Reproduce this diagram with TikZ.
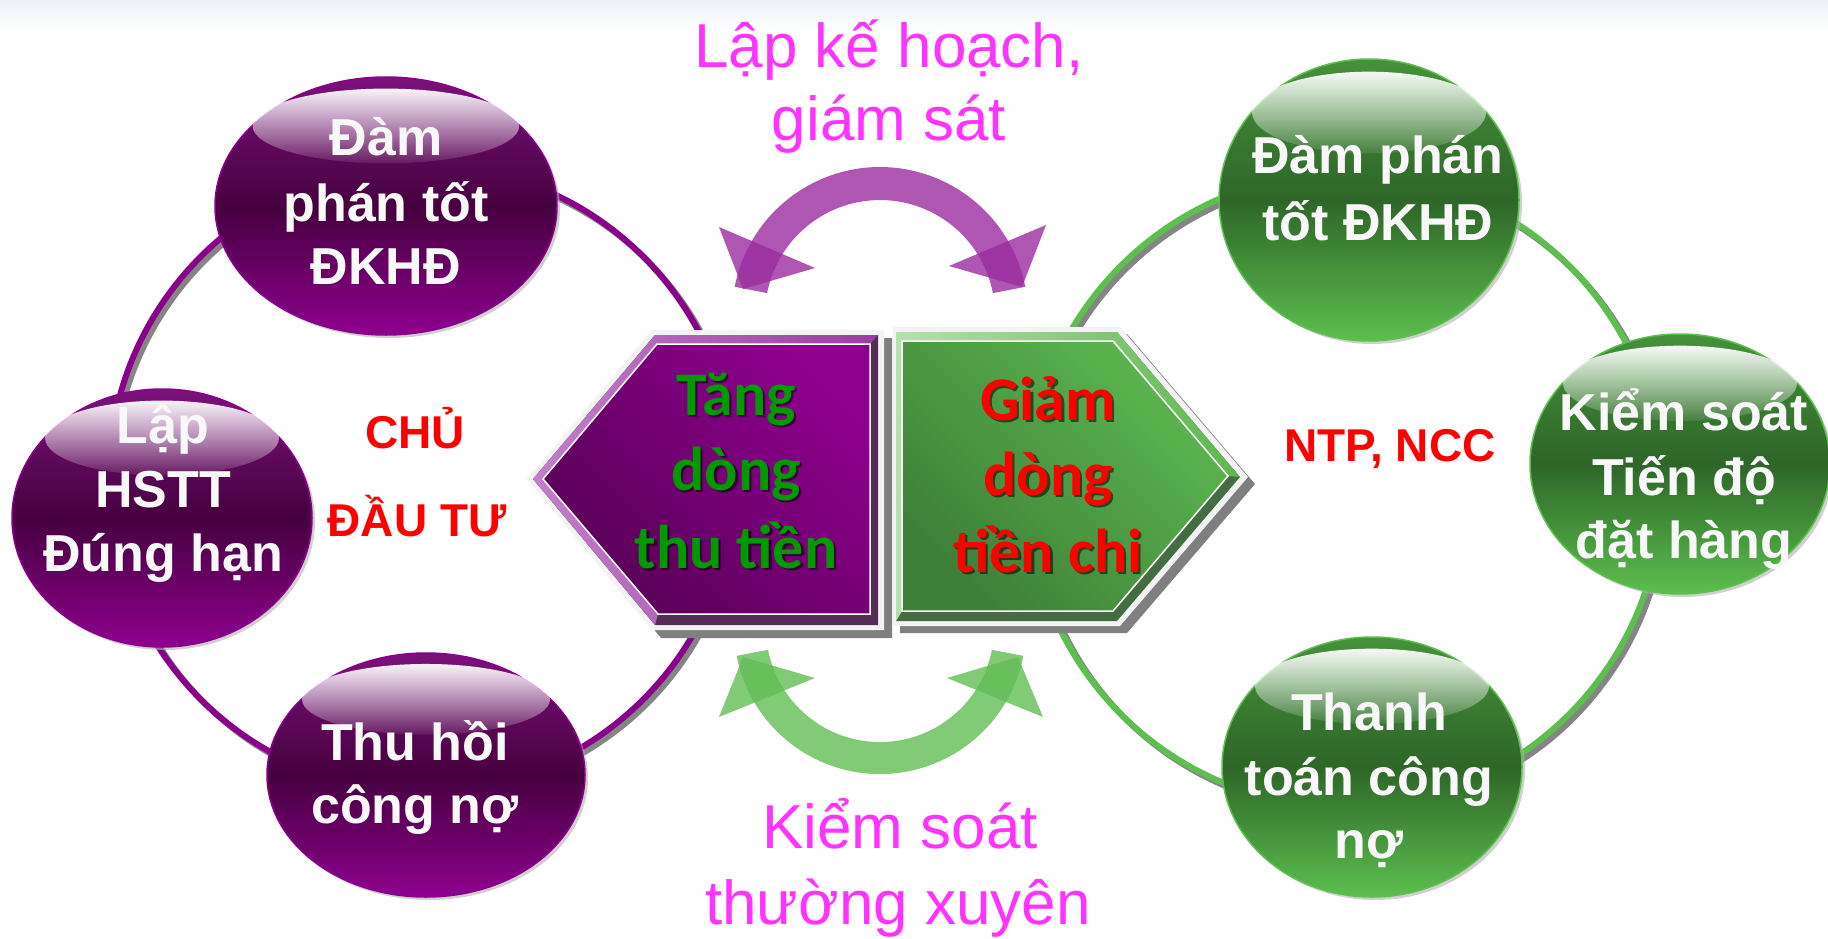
\documentclass[tikz,border=0pt]{standalone}
\usepackage{fontspec}
\setmainfont{Liberation Sans}
\newfontfamily\boxfont{Carlito}
\usetikzlibrary{shapes.geometric,fadings}
\tikzfading[name=hlfade, top color=transparent!5, bottom color=transparent!92]

\definecolor{purp}{HTML}{8B008B}
\definecolor{purpdark}{HTML}{46003F}
\definecolor{purptop}{HTML}{7A127A}
\definecolor{purpbot}{HTML}{8E008E}
\definecolor{grn}{HTML}{5CBF4E}
\definecolor{grndark}{HTML}{2E6628}
\definecolor{grntop}{HTML}{46913B}
\definecolor{grnbot}{HTML}{5CBF4E}
\definecolor{magt}{HTML}{FF33FF}
\definecolor{ringgray}{HTML}{858585}
\definecolor{txtwhite}{HTML}{F8F8F8}
\definecolor{tanggreen}{HTML}{009900}
\definecolor{arrowP}{HTML}{9C2CA0}
\definecolor{arrowG}{HTML}{62BE56}
\definecolor{boxgray}{HTML}{7F7F7F}
\definecolor{boxwhite}{HTML}{F3F3F3}
\definecolor{topbg}{RGB}{236,241,247}
\definecolor{lbdark}{RGB}{85,44,88}
\definecolor{lblightL}{RGB}{194,127,202}
\definecolor{lblightR}{RGB}{154,61,160}
\definecolor{lbinT}{RGB}{142,0,142}
\definecolor{lbinB}{RGB}{88,0,86}
\definecolor{rbdark}{RGB}{68,110,66}
\definecolor{rblightL}{RGB}{182,224,174}
\definecolor{rblightR}{RGB}{94,182,79}
\definecolor{rbinT}{RGB}{92,184,80}
\definecolor{rbinB}{RGB}{62,127,56}

\newcommand\mkball[6]{%
  \fill[ballshadow] ({#3+3},{#4+3}) ellipse [x radius=#5, y radius=#6];
  \node[#2, minimum width={2*#5*1pt}, minimum height={2*#6*1pt}] (#1) at (#3,#4) {};
  \fill[white, path fading=hlfade] (#3,{#4-0.62*#6}) ellipse [x radius={0.78*#5}, y radius={0.29*#6}];
}

\begin{document}
\begin{tikzpicture}[x=1pt,y=-1pt,
  ballshadow/.style={fill=black!30, opacity=0.6},
  purpball/.style={ellipse, inner sep=0, draw=purp, line width=1.5pt,
     top color=purptop, bottom color=purpbot, middle color=purpdark},
  grnball/.style={ellipse, inner sep=0, draw=grn, line width=1.5pt,
     top color=grntop, bottom color=grnbot, middle color=grndark},
  ringshadow/.style={draw=ringgray, line width=6pt},
  ringP/.style={draw=purp, line width=6pt},
  ringG/.style={draw=grn, line width=6pt},
  balltxt/.style={font=\fontsize{52}{60}\selectfont\bfseries, text=txtwhite, anchor=base, inner sep=0},
  redtxt/.style={font=\fontsize{46}{54}\selectfont\bfseries, text=red, anchor=base, inner sep=0},
  magtxt/.style={font=\fontsize{62}{70}\selectfont, text=magt, anchor=base, inner sep=0},
  boxtxt/.style={font=\boxfont\fontsize{62}{70}\selectfont\bfseries, anchor=base, inner sep=0},
  boxsh/.style={boxtxt, text=black, opacity=0.55},
  arrP/.style={fill=arrowP, fill opacity=0.8},
  arrG/.style={fill=arrowG, fill opacity=0.8}
]
\useasboundingbox (0,0) rectangle (1828,939);
\fill[white] (0,0) rectangle (1828,939);
\shade[top color=topbg, bottom color=white] (0,0) rectangle (1828,30);

% rings
\draw[ringshadow] (426,482) circle [radius=313];
\draw[ringP] (422,478) circle [radius=313];
\draw[ringshadow] (1349,494) circle [radius=317];
\draw[ringG] (1345,490) circle [radius=317];

% balls
\mkball{pa}{purpball}{386}{206}{171}{129}
\mkball{pb}{purpball}{162}{518}{150}{129}
\mkball{pc}{purpball}{426}{775}{159}{122}
\mkball{ga}{grnball}{1369}{200}{150}{141}
\mkball{gb}{grnball}{1680}{464}{150}{130}
\mkball{gc}{grnball}{1372}{767}{150}{130}

% ball texts
\node[balltxt] (pa1) at (386,156) {Đàm};
\node[balltxt] (pa2) at (386,221) {phán tốt};
\node[balltxt] (pa3) at (386,284) {ĐKHĐ};
\node[balltxt] (pb1) at (163,443) {Lập};
\node[balltxt] (pb2) at (163,507) {HSTT};
\node[balltxt] (pb3) at (163,571) {Đúng hạn};
\node[balltxt] (pc1) at (415,760) {Thu hồi};
\node[balltxt] (pc2) at (415,823) {công nợ};
\node[balltxt] (ga1) at (1378,173) {Đàm phán};
\node[balltxt] (ga2) at (1378,240) {tốt ĐKHĐ};
\node[balltxt] (gb1) at (1684,430) {Kiểm soát};
\node[balltxt] (gb2) at (1684,495) {Tiến độ};
\node[balltxt] (gb3) at (1684,558) {đặt hàng};
\node[balltxt] (gc1) at (1369,730) {Thanh};
\node[balltxt] (gc2) at (1369,795) {toán công};
\node[balltxt] (gc3) at (1369,858) {nợ};

% red labels
\node[redtxt] (cdt1) at (415,448) {CHỦ};
\node[redtxt] (cdt2) at (417,536) {ĐẦU TƯ};
\node[redtxt] (ntp) at (1390,461) {NTP, NCC};

% left box
\fill[boxgray] (536,487) -- (661,338) -- (892,338) -- (892,638) -- (661,638) -- cycle;
\fill[boxwhite] (527,479) -- (652,330) -- (884,330) -- (884,630) -- (652,630) -- cycle;
\fill[lbdark] (533,479) -- (655,335) -- (878,335) -- (878,625) -- (655,625) -- cycle;
\shade[left color=lblightL, right color=lblightR]
  (533,479) -- (655,335) -- (878,335) -- (870,344) -- (657,344) -- (543,479) -- (658,614) -- (655,625) -- cycle;
\shade[top color=lbinT, bottom color=lbinB, shading angle=-45]
  (543,479) -- (657,344) -- (870,344) -- (870,614) -- (658,614) -- cycle;
\draw[white, line width=1.5pt] (543,479) -- (657,344) -- (870,344) -- (870,614) -- (658,614) -- cycle;

% right box
\fill[boxgray] (900,334) -- (1127,334) -- (1255,484) -- (1127,633) -- (900,633) -- cycle;
\fill[boxwhite] (893,327) -- (1120,327) -- (1248,477) -- (1120,626) -- (893,626) -- cycle;
\fill[rbdark] (896,332) -- (1117,332) -- (1240,477) -- (1117,621) -- (896,621) -- cycle;
\shade[left color=rblightL, right color=rblightR]
  (896,332) -- (1117,332) -- (1240,477) -- (1228,476) -- (1113,341) -- (902,341) -- (902,611) -- (896,621) -- cycle;
\shade[top color=rbinT, bottom color=rbinB, shading angle=-45]
  (902,341) -- (1113,341) -- (1228,476) -- (1113,611) -- (902,611) -- cycle;
\draw[white, line width=1.5pt] (902,341) -- (1113,341) -- (1228,476) -- (1113,611) -- (902,611) -- cycle;

% box texts
\node[boxsh] (tl1s) at (738.5,417.5) {Tăng};
\node[boxsh] (tl2s) at (738.5,492.5) {dòng};
\node[boxsh] (tl3s) at (738.5,570.5) {thu tiền};
\node[boxtxt, text=tanggreen] (tl1) at (736,415) {Tăng};
\node[boxtxt, text=tanggreen] (tl2) at (736,490) {dòng};
\node[boxtxt, text=tanggreen] (tl3) at (736,568) {thu tiền};
\node[boxsh] (tr1s) at (1050.5,422.5) {Giảm};
\node[boxsh] (tr2s) at (1050.5,497.5) {dòng};
\node[boxsh] (tr3s) at (1050.5,574.5) {tiền chi};
\node[boxtxt, text=red] (tr1) at (1048,420) {Giảm};
\node[boxtxt, text=red] (tr2) at (1048,495) {dòng};
\node[boxtxt, text=red] (tr3) at (1048,572) {tiền chi};

% top curved arrow
\fill[arrP] (734.7,286.8) arc [start angle=-169, end angle=-11, radius=148]
  -- (992.9,293.1) arc [start angle=-11, end angle=-169, radius=115] -- cycle;
\fill[arrP] (719,227) -- (815,268) -- (743,289) -- cycle;
\fill[arrP] (1046,225) -- (949,266) -- (1022,287) -- cycle;

% bottom curved arrow
\fill[arrG] (736.7,655.9) arc [start angle=169, end angle=11, radius=146]
  -- (991.9,649.8) arc [start angle=11, end angle=169, radius=114] -- cycle;
\fill[arrG] (743,657) -- (719,717) -- (815,678) -- cycle;
\fill[arrG] (1018,657) -- (1043,717) -- (947,678) -- cycle;

% magenta labels
\node[magtxt] (m1) at (889,68) {Lập kế hoạch,};
\node[magtxt] (m2) at (889,140) {giám sát};
\node[magtxt] (m3) at (900,848) {Kiểm soát};
\node[magtxt] (m4) at (898,924) {thường xuyên};
\end{tikzpicture}
\end{document}
